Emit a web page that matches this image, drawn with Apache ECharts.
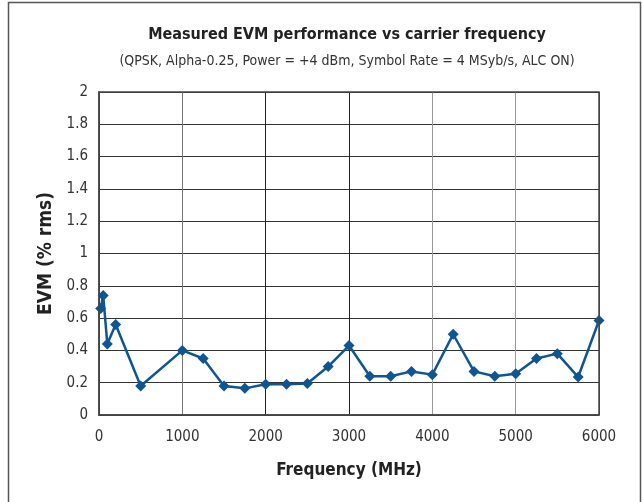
<!DOCTYPE html>
<html>
<head>
<meta charset="utf-8">
<script src="https://cdn.jsdelivr.net/npm/echarts@6/dist/echarts.min.js"></script>
<style>
  html, body { margin: 0; padding: 0; background: #fff; }
  #chart { width: 642px; height: 502px; }
</style>
</head>
<body>
<div id="chart"></div>
<script>
// carrier frequency (MHz) and measured EVM (% rms)
var freqMHz = [20, 50, 100, 200, 500, 1000, 1250, 1500, 1750, 2000, 2250, 2500, 2750, 3000,
  3250, 3500, 3750, 4000, 4250, 4500, 4750, 5000, 5250, 5500, 5750, 6000];
var evmRms = [0.66, 0.74, 0.44, 0.56, 0.18, 0.40, 0.35, 0.18, 0.165, 0.19, 0.19, 0.195, 0.30, 0.43,
  0.24, 0.24, 0.27, 0.25, 0.50, 0.27, 0.24, 0.255, 0.35, 0.38, 0.235, 0.585];

var titleText = 'Measured EVM performance vs carrier frequency';
var subText = '(QPSK, Alpha-0.25, Power = +4 dBm, Symbol Rate = 4 MSyb/s, ALC ON)';
var xName = 'Frequency (MHz)';
var yName = 'EVM (% rms)';

var narrow = "'Liberation Sans Narrow', 'DejaVu Sans Condensed', 'Roboto', sans-serif";

var data = [];
freqMHz.forEach(function (f, i) {
  data.push([f, evmRms[i]]);
});

var option = {
  animation: false,
  backgroundColor: '#fff',
  graphic: [
    {
      type: 'rect',
      shape: { x: 8.5, y: 2.5, width: 632, height: 540 },
      style: { fill: 'none', stroke: '#555', lineWidth: 1.5 }
    },
    {
      // plot box
      type: 'rect',
      shape: { x: 99, y: 92, width: 500, height: 323 },
      style: { fill: 'none', stroke: '#444', lineWidth: 1.5 },
      z: 5
    }
  ],
  title: [
    {
      text: titleText,
      left: 342, top: 22, textAlign: 'center',
      textStyle: { fontFamily: narrow, fontSize: 16, fontWeight: 'bold', color: '#222' }
    },
    {
      text: subText,
      left: 342, top: 49, textAlign: 'center',
      textStyle: { fontFamily: narrow, fontSize: 14, fontWeight: 'normal', color: '#333' }
    }
  ],
  grid: { left: 99, top: 92, right: 43, bottom: 87 },
  xAxis: {
    type: 'value',
    min: 0, max: 6000, interval: 1000,
    name: xName,
    nameLocation: 'middle',
    nameGap: 47,
    nameTextStyle: { fontFamily: narrow, fontSize: 17, fontWeight: 'bold', color: '#222' },
    axisLine: { show: true, lineStyle: { color: '#444', width: 1.5 } },
    axisTick: { show: false },
    axisLabel: {
      fontFamily: narrow, fontSize: 15, color: '#333', margin: 15,
      formatter: function (v) { return String(v); }
    },
    splitLine: {
      show: true,
      lineStyle: { color: ['#444', '#777', '#222', '#222', '#999', '#999', '#444'], width: 1 }
    }
  },
  yAxis: {
    type: 'value',
    min: 0, max: 2, interval: 0.2,
    name: yName,
    nameLocation: 'middle',
    nameGap: 39,
    nameTextStyle: { fontFamily: narrow, fontSize: 19, fontWeight: 'bold', color: '#222' },
    axisLine: { show: true, lineStyle: { color: '#444', width: 1.5 } },
    axisTick: { show: false },
    axisLabel: { fontFamily: narrow, fontSize: 15, color: '#333', margin: 11 },
    splitLine: { show: true, lineStyle: { color: '#333', width: 1 } }
  },
  series: [
    {
      type: 'line',
      data: data,
      symbol: 'diamond',
      symbolSize: 11,
      lineStyle: { color: '#0f5592', width: 2.5 },
      itemStyle: { color: '#0f5592' }
    }
  ]
};

var myChart = echarts.init(document.getElementById('chart'));
myChart.setOption(option);
</script>
</body>
</html>
